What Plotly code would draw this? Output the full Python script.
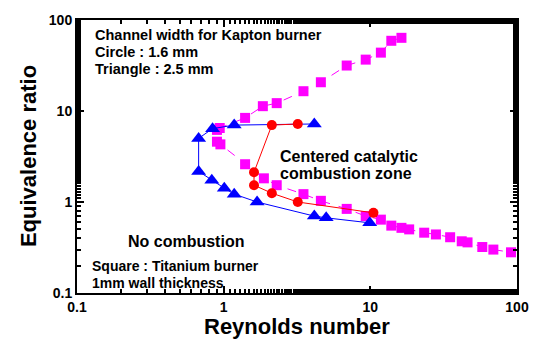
import plotly.graph_objects as go

# Titanium burner (squares)
sq_re = [16.3, 13.9, 11.8, 9.3, 6.9, 4.6, 3.5, 2.3, 1.85, 1.4, 0.94, 0.9,
         0.9, 0.95, 1.4, 1.88, 2.3, 3.5, 4.6, 6.9, 9.3, 11.8, 13.9, 16.3,
         18.4, 23.3, 28, 35, 42, 46, 58, 69, 91]
sq_phi = [63.7, 59.1, 43.8, 36.7, 31.6, 20.7, 16.5, 12.2, 11.3, 8.4, 6.5, 6.2,
          4.6, 4.3, 2.6, 1.82, 1.53, 1.22, 1.03, 0.84, 0.7, 0.64, 0.55, 0.52,
          0.5, 0.46, 0.44, 0.41, 0.37, 0.36, 0.32, 0.30, 0.28]

# Kapton burner, 1.6 mm channel (circles)
ci_re = [3.2, 2.13, 1.61, 1.61, 2.13, 3.2, 10.5]
ci_phi = [7.2, 7.0, 2.12, 1.53, 1.25, 1.0, 0.76]

# Kapton burner, 2.5 mm channel (triangles)
tr_re = [4.15, 1.18, 0.84, 0.675, 0.675, 0.83, 1.01, 1.18, 1.69, 4.15, 5.0, 9.9]
tr_phi = [7.2, 7.0, 6.4, 5.0, 2.17, 1.73, 1.42, 1.22, 1.0, 0.7, 0.67, 0.59]

major_ticks = [0.1, 1, 10, 100]
major_labels = ["0.1", "1", "10", "100"]

FONT = "Liberation Sans, Arial, sans-serif"

fig = go.Figure()
fig.add_trace(go.Scatter(
    x=sq_re, y=sq_phi, mode="lines+markers",
    line=dict(color="#FF00FF", width=1, dash="dash"),
    marker=dict(symbol="square", size=10, color="#FF00FF"),
    name="Titanium"))
fig.add_trace(go.Scatter(
    x=tr_re, y=tr_phi, mode="lines+markers",
    line=dict(color="#0000FF", width=1),
    marker=dict(symbol="triangle-up", size=13, color="#0000FF"),
    name="2.5 mm"))
fig.add_trace(go.Scatter(
    x=ci_re, y=ci_phi, mode="lines+markers",
    line=dict(color="#FF0000", width=1),
    marker=dict(symbol="circle", size=10, color="#FF0000"),
    name="1.6 mm"))

axis_common = dict(
    type="log", range=[-1, 2], tickmode="array",
    tickvals=major_ticks, ticktext=[f"<b>{t}</b>" for t in major_labels],
    showline=True, linecolor="black",
    linewidth=2, mirror="allticks", ticks="inside", ticklen=7, tickwidth=2,
    tickcolor="black",
    minor=dict(ticks="inside", ticklen=4, tickcolor="black"),
    tickfont=dict(family=FONT, size=14, color="black"),
)
fig.update_xaxes(**axis_common)
fig.update_yaxes(**axis_common)

def note(text, x, y, size, xanchor="left", textangle=0):
    fig.add_annotation(text=f"<b>{text}</b>", x=x, y=y, xref="paper",
                       yref="paper", xanchor=xanchor, yanchor="middle",
                       showarrow=False, textangle=textangle,
                       font=dict(family=FONT, size=size, color="black"))

note("Channel width for Kapton burner", 0.036, 0.946, 14.5)
note("Circle : 1.6 mm", 0.036, 0.884, 14.5)
note("Triangle : 2.5 mm", 0.036, 0.822, 14.5)
note("Centered catalytic", 0.456, 0.500, 16)
note("combustion zone", 0.456, 0.438, 16)
note("No combustion", 0.247, 0.188, 16, xanchor="center")
note("Square : Titanium burner", 0.030, 0.098, 14)
note("1mm wall thickness", 0.030, 0.036, 14)

note("Reynolds number", 0.5, -0.123, 22, xanchor="center")
note("Equivalence ratio", -0.110, 0.5, 22, xanchor="center", textangle=-90)

fig.update_layout(
    width=541, height=343,
    margin=dict(l=77, r=19, t=17, b=50),
    paper_bgcolor="white", plot_bgcolor="white",
    showlegend=False,
    font=dict(family=FONT, color="black"),
)

fig.write_html("out.html", config={"displayModeBar": False},
               post_script="document.body.style.margin='0';"
                           "document.body.style.overflow='hidden';")
